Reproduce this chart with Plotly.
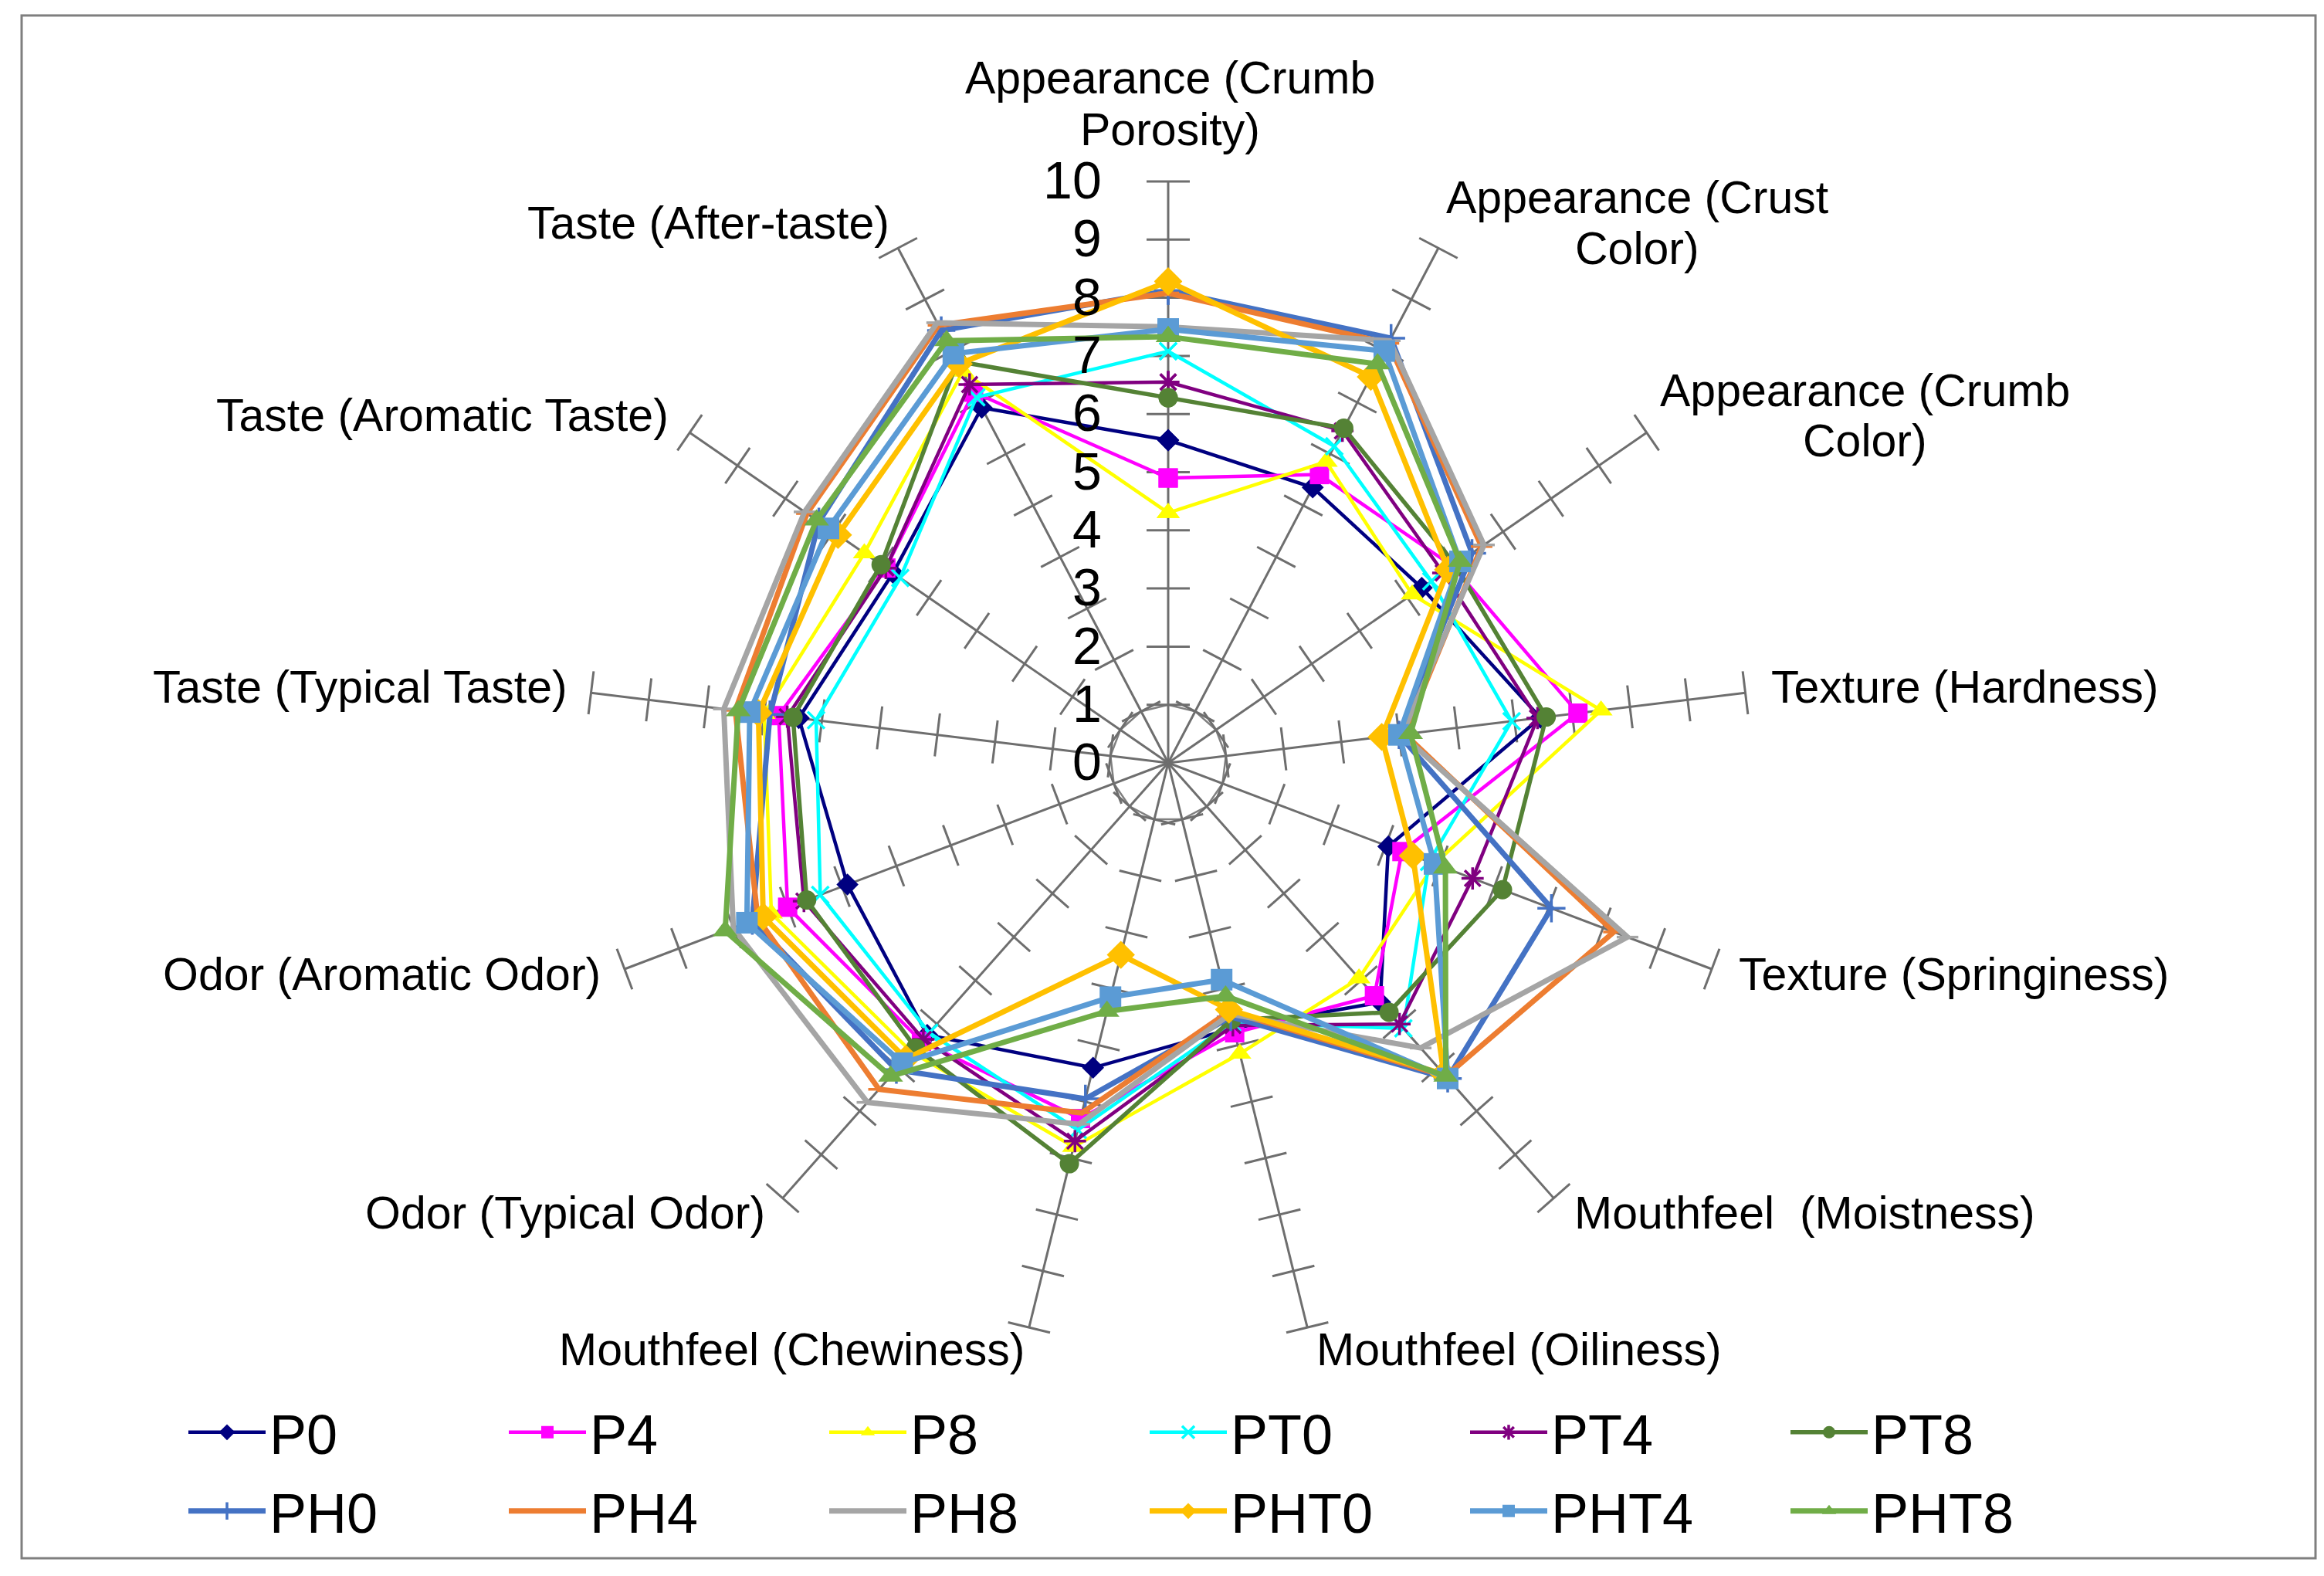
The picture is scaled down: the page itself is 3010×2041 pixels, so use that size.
import plotly.graph_objects as go

categories = [
    "Appearance (Crumb Porosity)", "Appearance (Crust Color)", "Appearance (Crumb Color)",
    "Texture (Hardness)", "Texture (Springiness)", "Mouthfeel  (Moistness)",
    "Mouthfeel (Oiliness)", "Mouthfeel (Chewiness)", "Odor (Typical Odor)",
    "Odor (Aromatic Odor)", "Taste (Typical Taste)", "Taste (Aromatic Taste)",
    "Taste (After-taste)",
]

P0 = [5.55, 5.35, 5.3, 6.45, 4.05, 5.5, 4.7, 5.4, 6.25, 5.9, 6.4, 5.75, 6.9]
P4 = [4.9, 5.6, 5.95, 7.1, 4.3, 5.35, 4.78, 6.3, 6.4, 7.0, 6.75, 5.9, 7.2]
P8 = [4.3, 5.85, 5.1, 7.5, 4.9, 4.95, 5.15, 6.8, 6.65, 7.3, 7.0, 6.35, 7.6]
PT0 = [7.08, 6.15, 5.5, 5.95, 4.8, 6.1, 4.6, 6.5, 6.2, 6.4, 6.1, 5.6, 7.1]
PT4 = [6.55, 6.45, 5.75, 6.4, 5.6, 6.0, 4.65, 6.7, 6.35, 6.7, 6.6, 5.9, 7.35]
PT8 = [6.28, 6.5, 6.0, 6.55, 6.15, 5.73, 4.55, 7.1, 6.55, 6.65, 6.5, 6.0, 7.8]
PH0 = [8.12, 8.25, 6.35, 4.0, 7.05, 7.25, 4.5, 5.95, 7.05, 7.65, 6.9, 7.3, 8.4]
PH4 = [8.08, 8.15, 6.55, 4.1, 8.2, 7.2, 4.4, 6.2, 7.5, 7.55, 7.5, 7.55, 8.5]
PH8 = [7.5, 8.2, 6.6, 4.05, 8.45, 6.55, 4.45, 6.4, 7.8, 8.0, 7.7, 7.6, 8.55]
PHT0 = [8.28, 7.5, 5.85, 3.7, 4.5, 7.15, 4.37, 3.4, 6.8, 7.45, 7.1, 6.9, 7.75]
PHT4 = [7.46, 8.0, 6.1, 4.0, 4.9, 7.25, 3.84, 4.15, 6.9, 7.75, 7.25, 7.1, 7.95]
PHT8 = [7.33, 7.75, 6.1, 4.2, 5.1, 7.2, 4.13, 4.4, 7.2, 8.15, 7.45, 7.35, 8.2]

series_names = ["P0", "P4", "P8", "PT0", "PT4", "PT8", "PH0", "PH4", "PH8", "PHT0", "PHT4", "PHT8"]
series_values = [P0, P4, P8, PT0, PT4, PT8, PH0, PH4, PH8, PHT0, PHT4, PHT8]

radial_ticks = list(range(0, 11))
radial_ticktext = [str(v) for v in radial_ticks]

# styles
colors = ["#000080", "#FF00FF", "#FFFF00", "#00FFFF", "#800080", "#548235",
          "#4472C4", "#ED7D31", "#A5A5A5", "#FFC000", "#5B9BD5", "#70AD47"]
symbols = ["diamond", "square", "triangle-up", "x-thin-open", "asterisk-open", "circle",
           "cross-thin-open", "line-ew-open", "line-ew-open", "diamond", "square", "triangle-up"]
msizes = [22, 25, 26, 22, 24, 25, 26, 20, 20, 28, 28, 28]
lwidths = [4.5, 4.5, 4.5, 4.5, 4.5, 5.5, 7, 7, 7, 7, 7, 7]

FONT = "Liberation Sans, Arial, sans-serif"
W, H = 3010, 2041
CX, CY, R = 1505, 980, 753

fig = go.Figure()

n = len(categories)
# r=1 ring
fig.add_trace(go.Scatterpolar(
    r=[1] * (n + 1), theta=categories + [categories[0]], mode="lines",
    line=dict(color="#808080", width=2.5), showlegend=False, hoverinfo="skip"))

# tick crosses on the spokes
tick_r, tick_t, tick_a = [], [], []
for i, c in enumerate(categories):
    for v in range(1, 11):
        tick_r.append(v)
        tick_t.append(c)
        tick_a.append(i * 360.0 / n)
fig.add_trace(go.Scatterpolar(
    r=tick_r, theta=tick_t, mode="markers",
    marker=dict(symbol="line-ew", size=40, angle=tick_a,
                line=dict(color="#6E6E6E", width=3)),
    showlegend=False, hoverinfo="skip"))

for k, (name, vals) in enumerate(zip(series_names, series_values)):
    mline = dict(color=colors[k], width=3.5 if "open" in symbols[k] else 0)
    fig.add_trace(go.Scatterpolar(
        r=vals + [vals[0]], theta=categories + [categories[0]],
        mode="lines+markers", name=name,
        line=dict(color=colors[k], width=lwidths[k]),
        marker=dict(symbol=symbols[k], size=msizes[k], color=colors[k], line=mline),
        legend="legend" if k < 6 else "legend2",
    ))

legend_common = dict(orientation="h", x=231 / W, xanchor="left", yanchor="middle",
                     entrywidth=300, entrywidthmode="pixels", itemwidth=100,
                     font=dict(size=72, family=FONT), bgcolor="rgba(0,0,0,0)")

fig.update_layout(
    width=W, height=H,
    margin=dict(l=0, r=0, t=0, b=0),
    paper_bgcolor="white",
    font=dict(family=FONT, color="black"),
    polar=dict(
        domain=dict(x=[(CX - R) / W, (CX + R) / W],
                    y=[(H - CY - R) / H, (H - CY + R) / H]),
        bgcolor="rgba(0,0,0,0)",
        gridshape="linear",
        angularaxis=dict(
            type="category", categoryarray=categories,
            direction="clockwise", rotation=90,
            showline=False, showticklabels=False, ticks="",
            showgrid=True, gridcolor="#6E6E6E", gridwidth=3,
        ),
        radialaxis=dict(
            range=[0, 10], angle=90, tickangle=90,
            tickvals=radial_ticks, ticktext=radial_ticktext,
            showline=False, showgrid=False,
            ticks="outside", ticklen=62, tickcolor="rgba(0,0,0,0)",
            side="counterclockwise",
            tickfont=dict(size=68, color="black", family=FONT),
        ),
    ),
    legend=dict(y=1 - 1847 / H, **legend_common),
    legend2=dict(y=1 - 1949 / H, **legend_common),
)

# category labels (one annotation per text line)
labels = [
    ("Appearance (Crumb", 1507, 100, "center"),
    ("Porosity)", 1507, 167, "center"),
    ("Appearance (Crust", 2112, 255, "center"),
    ("Color)", 2112, 321, "center"),
    ("Appearance (Crumb", 2407, 505, "center"),
    ("Color)", 2407, 570, "center"),
    ("Texture (Hardness)", 2284, 889, "left"),
    ("Texture (Springiness)", 2242, 1261, "left"),
    ("Mouthfeel\u00a0 (Moistness)", 2029, 1570, "left"),
    ("Mouthfeel (Oiliness)", 1695, 1747, "left"),
    ("Mouthfeel (Chewiness)", 1321, 1747, "right"),
    ("Odor (Typical Odor)", 985, 1570, "right"),
    ("Odor (Aromatic Odor)", 772, 1261, "right"),
    ("Taste (Typical Taste)", 729, 889, "right"),
    ("Taste (Aromatic Taste)", 860, 537, "right"),
    ("Taste (After-taste)", 1146, 288, "right"),
]
for txt, x, y, anc in labels:
    fig.add_annotation(text=txt, x=x / W, y=1 - (y - 7) / H, xref="paper", yref="paper",
                       xanchor=anc, yanchor="middle", align="center", showarrow=False,
                       font=dict(size=59, family=FONT, color="black"))

# frame
fig.add_shape(type="rect", xref="paper", yref="paper",
              x0=20 / W, x1=2991 / W, y0=1 - 2010 / H, y1=1 - 12 / H,
              line=dict(color="#7F7F7F", width=3))

fig.write_html("out.html")
